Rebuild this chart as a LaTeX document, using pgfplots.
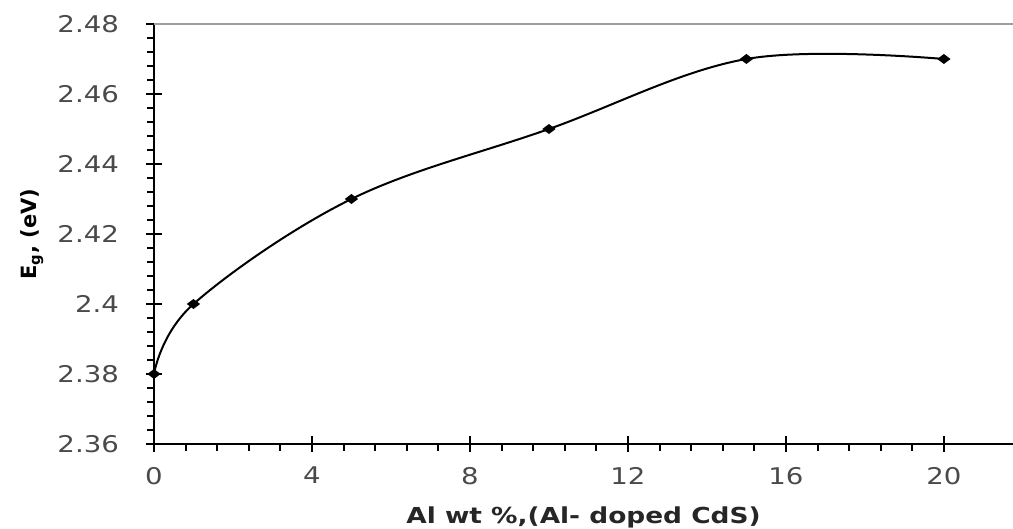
\documentclass[border=0pt]{standalone}
\usepackage{fontspec}
\setmainfont{DejaVu Sans}
\newfontfamily\tickfont[FakeStretch=1.2]{DejaVu Sans}
\newfontfamily\labfont[FakeStretch=1.2]{DejaVu Sans}
\usepackage{pgfplots}
\pgfplotsset{compat=1.18}
\definecolor{tickgray}{HTML}{4A4A4A}
\definecolor{labgray}{HTML}{262626}
\begin{document}
\begin{tikzpicture}
\begin{axis}[
  at={(0,0)}, anchor=south west,
  scale only axis,
  width=429.5pt, height=210pt,
  xmin=0, xmax=21.75, ymin=2.36, ymax=2.48,
  axis x line=bottom, axis y line=left,
  axis line style={-, black, line width=1.2pt},
  xtick={0,4,8,12,16,20},
  ytick={2.36,2.38,2.40,2.42,2.44,2.46,2.48},
  minor x tick num=4, minor y tick num=4,
  tick align=outside,
  major tick length=8pt, minor tick length=3.5pt,
  every tick/.style={black, line width=1pt},
  major y tick style={xshift=4pt},
  major x tick style={yshift=4pt},
  /pgf/number format/assume math mode=true,
  /pgf/number format/fixed,
  /pgf/number format/precision=2,
  tick label style={font=\tickfont\fontsize{11.5}{13}\selectfont, text=tickgray},
  yticklabel style={anchor=east, xshift=-6pt},
  xticklabel style={anchor=north},
  xlabel={Al wt \%,(Al- doped CdS)},
  ylabel={E\textsubscript{g}, (eV)},
  xlabel style={font=\labfont\bfseries\fontsize{11}{13}\selectfont, text=labgray, at={(rel axis cs:0.5,0)}, anchor=center, yshift=-36.5pt},
  ylabel style={font=\bfseries\fontsize{10.5}{12}\selectfont, text=black, at={(axis description cs:-0.1420,0.5)}, anchor=center},
  clip=false,
]
\draw[gray!75, line width=1.2pt] (rel axis cs:0,1) -- (rel axis cs:1,1);
\addplot[black, line width=1pt, smooth, tension=0.6, mark=diamond*, mark size=2.5pt, mark options={rotate=90, fill=black}]
  coordinates {(0,2.38) (1,2.40) (5,2.43) (10,2.45) (15,2.47) (20,2.47)};
\end{axis}
\pgfresetboundingbox
\path[use as bounding box] (-77pt,-42.5pt) rectangle (429.5pt,222pt);
\end{tikzpicture}
\end{document}
